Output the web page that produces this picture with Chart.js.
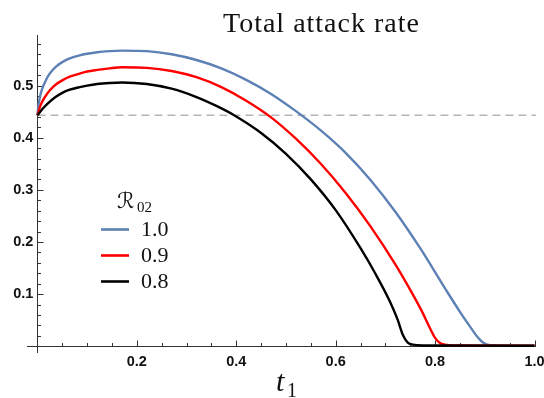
<!DOCTYPE html>
<html>
<head>
<meta charset="utf-8">
<script src="https://cdn.jsdelivr.net/npm/chart.js@4.4.1/dist/chart.umd.min.js"></script>
<style>
  html, body { margin: 0; padding: 0; background: #fff; }
  #wrap { width: 544px; height: 398px; }
</style>
</head>
<body>
<div id="wrap"><canvas id="attackChart" width="544" height="398"></canvas></div>
<script>
// --- DATA ---
const baselineRate = 0.443;
const seriesLabels = ['1.0', '0.9', '0.8'];
const seriesColors = ['#5e81b5', '#ff0000', '#000000'];

// R02 = 1.0
const tR10 = [0, 0.002, 0.005, 0.009, 0.014, 0.02, 0.028, 0.038, 0.05, 0.065, 0.085, 0.1, 0.12, 0.145, 0.17, 0.22, 0.27, 0.32, 0.37, 0.42, 0.47, 0.52, 0.57, 0.62, 0.67, 0.72, 0.77, 0.82, 0.85, 0.87, 0.885, 0.895, 0.905, 0.92, 1.0];
const rateR10 = [baselineRate, 0.462, 0.478, 0.492, 0.504, 0.516, 0.527, 0.537, 0.545, 0.552, 0.558, 0.561, 0.564, 0.566, 0.567, 0.566, 0.560, 0.549, 0.533, 0.511, 0.484, 0.451, 0.414, 0.371, 0.319, 0.258, 0.188, 0.111, 0.066, 0.038, 0.018, 0.008, 0.003, 0.0015, 0.001];

// R02 = 0.9
const tR09 = [0, 0.003, 0.008, 0.015, 0.025, 0.037, 0.05, 0.065, 0.085, 0.1, 0.12, 0.145, 0.17, 0.22, 0.27, 0.32, 0.37, 0.42, 0.47, 0.52, 0.57, 0.62, 0.67, 0.72, 0.75, 0.775, 0.79, 0.8, 0.81, 0.82, 0.835, 1.0];
const rateR09 = [baselineRate, 0.453, 0.466, 0.478, 0.491, 0.502, 0.510, 0.517, 0.523, 0.527, 0.530, 0.533, 0.535, 0.534, 0.528, 0.516, 0.497, 0.471, 0.439, 0.398, 0.350, 0.294, 0.230, 0.157, 0.108, 0.064, 0.034, 0.016, 0.006, 0.003, 0.0015, 0.001];

// R02 = 0.8
const tR08 = [0, 0.01, 0.02, 0.035, 0.05, 0.065, 0.085, 0.1, 0.12, 0.145, 0.17, 0.22, 0.27, 0.32, 0.36, 0.394, 0.45, 0.5, 0.55, 0.6, 0.65, 0.68, 0.71, 0.725, 0.735, 0.745, 0.755, 0.775, 1.0];
const rateR08 = [baselineRate, 0.455, 0.465, 0.477, 0.486, 0.492, 0.497, 0.500, 0.503, 0.505, 0.506, 0.503, 0.494, 0.478, 0.461, 0.444, 0.409, 0.369, 0.320, 0.261, 0.188, 0.139, 0.084, 0.050, 0.022, 0.007, 0.003, 0.0015, 0.001];

// Axis ticks
const xMajorTicks = [0.2, 0.4, 0.6, 0.8, 1.0];
const xMinorTicks = [0.05, 0.1, 0.15, 0.25, 0.3, 0.35, 0.45, 0.5, 0.55, 0.65, 0.7, 0.75, 0.85, 0.9, 0.95];
const yMajorTicks = [0.1, 0.2, 0.3, 0.4, 0.5];
const yMinorTicks = [0.02, 0.04, 0.06, 0.08, 0.12, 0.14, 0.16, 0.18, 0.22, 0.24, 0.26, 0.28,
                     0.32, 0.34, 0.36, 0.38, 0.42, 0.44, 0.46, 0.48, 0.52, 0.54, 0.56, 0.58];

const toPoints = (ts, vs) => ts.map((t, i) => ({ x: t, y: vs[i] }));

// --- AXES, LABELS, TITLE, LEGEND ---
const frameLabelsPlugin = {
    id: 'frameLabels',
    beforeDatasetsDraw(chart) {
        const { ctx, scales: { x, y } } = chart;
        const x0 = Math.round(x.getPixelForValue(0)) + 0.5;
        const y0 = Math.round(y.getPixelForValue(0)) + 0.5;
        ctx.save();
        ctx.strokeStyle = '#333';
        ctx.lineWidth = 1;
        ctx.beginPath();
        ctx.moveTo(x.left, y0); ctx.lineTo(x.right, y0);
        ctx.moveTo(x0, y.top); ctx.lineTo(x0, y.bottom);

        // ticks point inward
        xMajorTicks.forEach(v => { const px = Math.round(x.getPixelForValue(v)) + 0.5; ctx.moveTo(px, y0); ctx.lineTo(px, y0 - 6); });
        xMinorTicks.forEach(v => { const px = Math.round(x.getPixelForValue(v)) + 0.5; ctx.moveTo(px, y0); ctx.lineTo(px, y0 - 3.5); });
        yMajorTicks.forEach(v => { const py = Math.round(y.getPixelForValue(v)) + 0.5; ctx.moveTo(x0, py); ctx.lineTo(x0 + 6, py); });
        yMinorTicks.forEach(v => { const py = Math.round(y.getPixelForValue(v)) + 0.5; ctx.moveTo(x0, py); ctx.lineTo(x0 + 3.5, py); });
        ctx.stroke();
        ctx.restore();
    },
    afterDraw(chart) {
        const { ctx, scales: { x, y } } = chart;
        const x0 = x.getPixelForValue(0);
        const y0 = y.getPixelForValue(0);
        ctx.save();
        ctx.fillStyle = '#111';

        // tick labels
        ctx.font = 'bold 14.5px "Liberation Sans", Arial, sans-serif';
        ctx.textAlign = 'center';
        ctx.textBaseline = 'top';
        xMajorTicks.forEach(v => ctx.fillText(v.toFixed(1), x.getPixelForValue(v), y0 + 9));
        ctx.textAlign = 'right';
        ctx.textBaseline = 'middle';
        yMajorTicks.forEach(v => ctx.fillText(v.toFixed(1), x0 - 4, y.getPixelForValue(v)));

        // plot title
        ctx.font = '28px "Liberation Serif", "Times New Roman", serif';
        ctx.textAlign = 'left';
        ctx.textBaseline = 'alphabetic';
        ctx.letterSpacing = '1px';
        ctx.fillText('Total attack rate', 223, 32);
        ctx.letterSpacing = '0px';

        // x axis label t_1
        ctx.font = 'italic 30px "Liberation Serif", serif';
        ctx.fillText('t', 276, 391);
        ctx.font = '20px "Liberation Serif", serif';
        ctx.fillText('1', 287, 397);

        // legend header
        ctx.font = '22px "Liberation Serif", "DejaVu Serif", "DejaVu Sans", serif';
        ctx.fillText('\u211B', 117, 208);
        ctx.font = '15px "Liberation Serif", serif';
        ctx.fillText('02', 137, 212);

        // legend rows
        const rowY = [229.5, 255.5, 281.5];
        seriesLabels.forEach((lab, i) => {
            ctx.strokeStyle = seriesColors[i];
            ctx.lineWidth = 2.6;
            ctx.beginPath();
            ctx.moveTo(101, rowY[i]); ctx.lineTo(129, rowY[i]);
            ctx.stroke();
            ctx.font = '22px "Liberation Serif", serif';
            ctx.textBaseline = 'middle';
            ctx.fillText(lab, 141, rowY[i] + 1);
        });
        ctx.restore();
    }
};

const curveStyle = (i) => ({
    label: seriesLabels[i],
    borderColor: seriesColors[i],
    borderWidth: 2.4,
    pointRadius: 0,
    cubicInterpolationMode: 'monotone',
    fill: false
});

new Chart(document.getElementById('attackChart'), {
    type: 'line',
    data: {
        datasets: [
            { ...curveStyle(0), data: toPoints(tR10, rateR10), order: 3 },
            { ...curveStyle(1), data: toPoints(tR09, rateR09), order: 2 },
            { ...curveStyle(2), data: toPoints(tR08, rateR08), order: 1 },
            {
                label: 'baseline',
                data: [{ x: 0, y: baselineRate }, { x: 1.003, y: baselineRate }],
                borderColor: '#b5b5b5',
                borderWidth: 1.6,
                borderDash: [8, 5],
                pointRadius: 0,
                order: 4
            }
        ]
    },
    options: {
        responsive: false,
        animation: false,
        layout: { padding: { left: 27, right: 8, top: 35, bottom: 45 } },
        plugins: { legend: { display: false }, tooltip: { enabled: false } },
        scales: {
            x: { type: 'linear', min: -0.021, max: 1.003, display: false },
            y: { type: 'linear', min: -0.013, max: 0.597, display: false }
        }
    },
    plugins: [frameLabelsPlugin]
});
</script>
</body>
</html>
